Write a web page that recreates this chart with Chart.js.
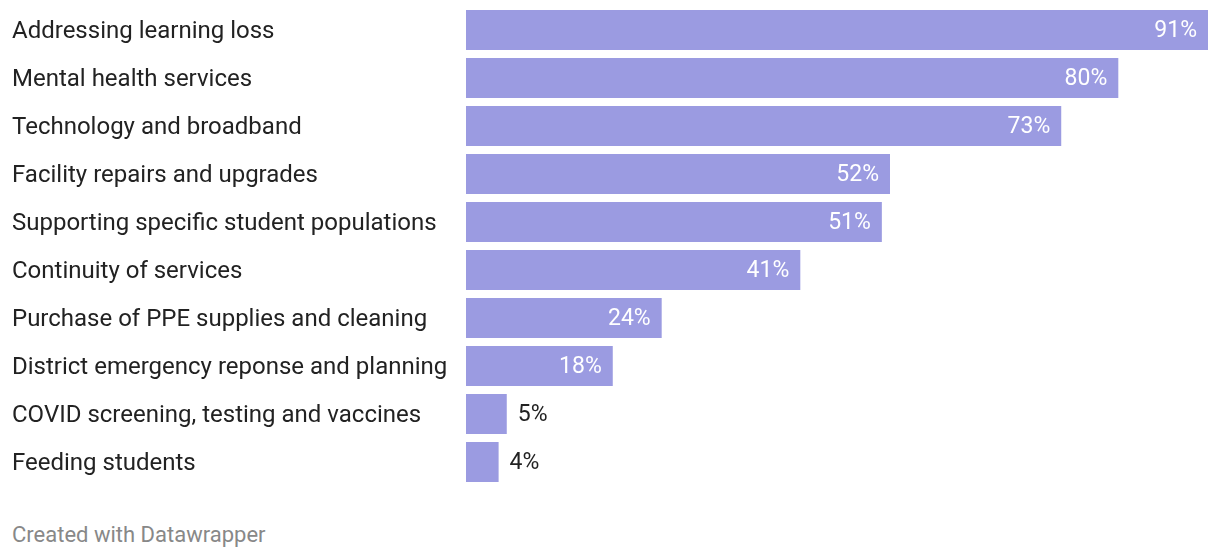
<!DOCTYPE html>
<html>
<head>
<meta charset="utf-8">
<script src="https://cdn.jsdelivr.net/npm/chart.js@4.4.1/dist/chart.umd.min.js"></script>
<style>
    html, body { margin: 0; padding: 0; background: #fff; }
    #wrap { position: relative; width: 1220px; height: 558px; }
    #chart { position: absolute; left: 0; top: 0; }
    #footer {
        position: absolute; left: 12px; top: 522px;
        font-family: Roboto, sans-serif; font-size: 22px; color: #888;
    }
</style>
</head>
<body>
<div id="wrap">
    <canvas id="chart" width="1220" height="500"></canvas>
    <div id="footer">Created with Datawrapper</div>
</div>
<script>
// Data
const categories = [
    'Addressing learning loss',
    'Mental health services',
    'Technology and broadband',
    'Facility repairs and upgrades',
    'Supporting specific student populations',
    'Continuity of services',
    'Purchase of PPE supplies and cleaning',
    'District emergency reponse and planning',
    'COVID screening, testing and vaccines',
    'Feeding students'
];
const shares = [91, 80, 73, 52, 51, 41, 24, 18, 5, 4];

const barColor = '#9b9be1';
const textColor = '#222222';
const labelFont = '23px Roboto, sans-serif';

// Value labels, inside the bar when they fit, outside otherwise
const valueLabels = {
    id: 'valueLabels',
    afterDatasetsDraw(chart) {
        const ctx = chart.ctx;
        const meta = chart.getDatasetMeta(0);
        ctx.save();
        ctx.font = labelFont;
        ctx.textBaseline = 'middle';
        meta.data.forEach((bar, i) => {
            const text = shares[i] + '%';
            const w = ctx.measureText(text).width;
            const barW = bar.x - bar.base;
            if (barW > w + 22) {
                ctx.fillStyle = '#ffffff';
                ctx.textAlign = 'right';
                ctx.fillText(text, bar.x - 11, bar.y + 1);
            } else {
                ctx.fillStyle = textColor;
                ctx.textAlign = 'left';
                ctx.fillText(text, bar.x + 11, bar.y + 1);
            }
        });
        ctx.restore();
    }
};

new Chart(document.getElementById('chart'), {
    type: 'bar',
    data: {
        labels: categories,
        datasets: [{
            data: shares,
            backgroundColor: barColor,
            borderWidth: 0,
            barPercentage: 40 / 48,
            categoryPercentage: 1
        }]
    },
    options: {
        indexAxis: 'y',
        responsive: false,
        animation: false,
        events: [],
        layout: {
            padding: { left: 12, right: 12, top: 6, bottom: 14 }
        },
        scales: {
            x: {
                display: false,
                min: 0,
                max: 91
            },
            y: {
                grid: { display: false, drawTicks: false },
                border: { display: false },
                ticks: {
                    crossAlign: 'far',
                    color: textColor,
                    font: { family: 'Roboto, sans-serif', size: 24 },
                    padding: 0,
                    labelOffset: 2
                },
                afterFit(scale) {
                    scale.width = 454;
                    scale.paddingTop = 0;
                    scale.paddingBottom = 0;
                }
            }
        },
        plugins: {
            legend: { display: false },
            tooltip: { enabled: false }
        }
    },
    plugins: [valueLabels]
});
</script>
</body>
</html>
